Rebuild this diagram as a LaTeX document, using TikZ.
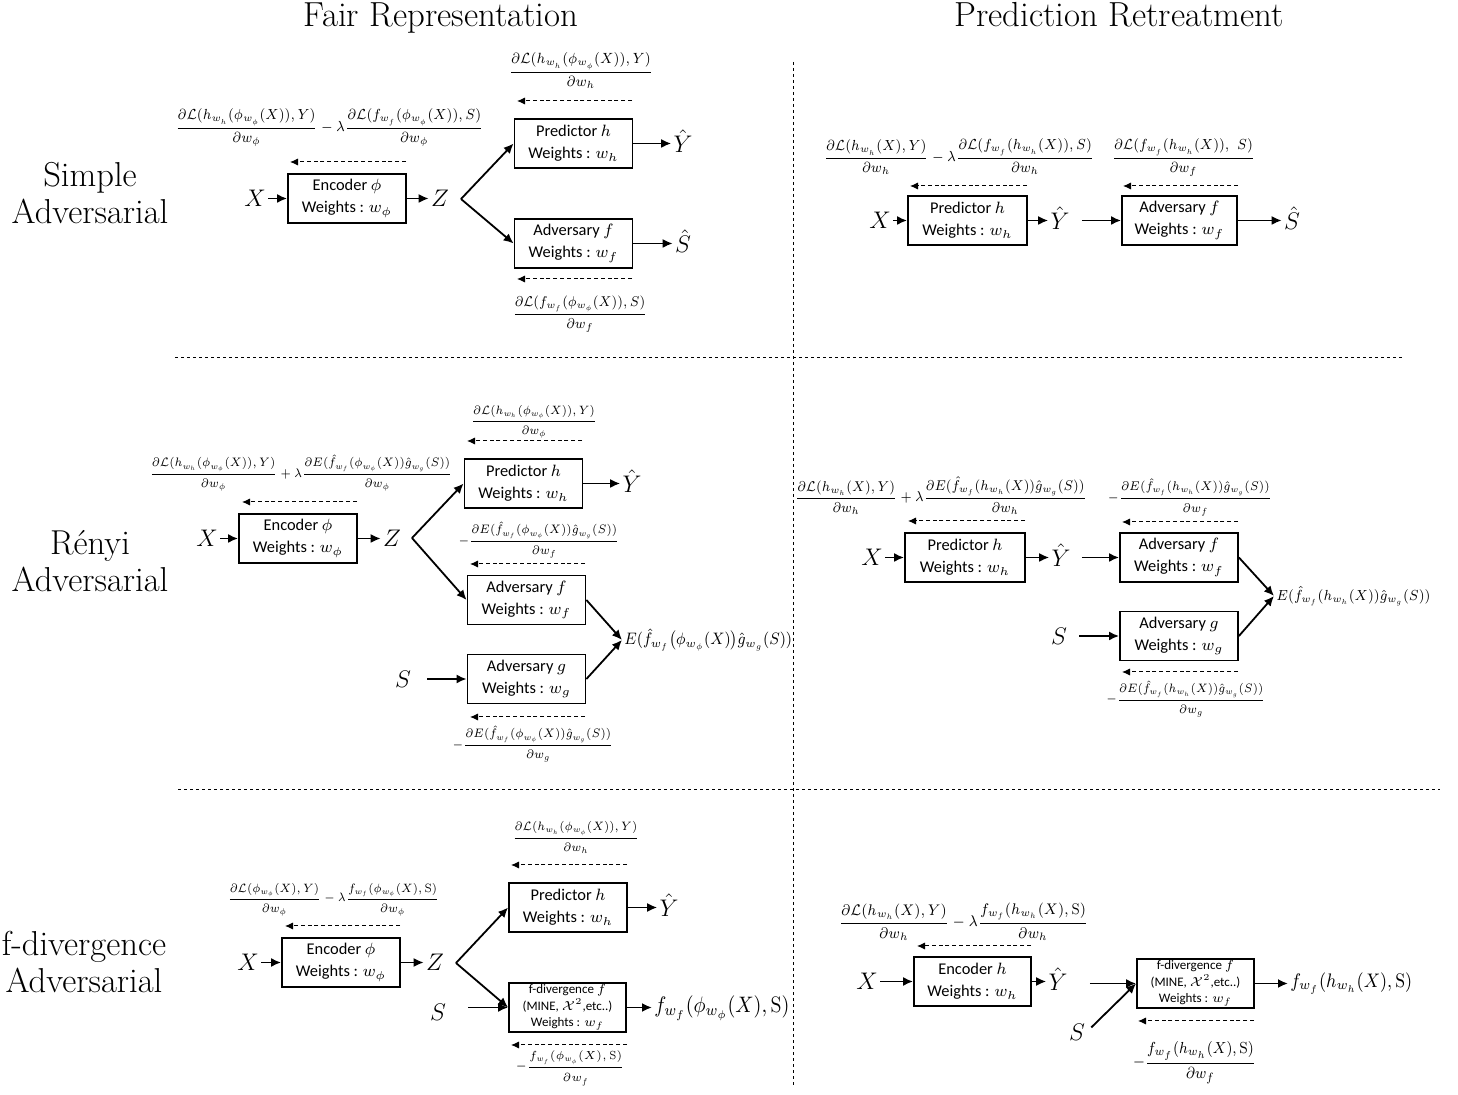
\documentclass[tikz,border=0pt]{standalone}
\usepackage{fix-cm}
\usepackage{amsmath}
\usepackage{graphicx}
\usepackage{fontspec}
\newfontfamily\boxfont{Carlito}
\usetikzlibrary{arrows.meta,calc}
% slightly narrowed formula set
\newcommand\sqz[1]{\scalebox{0.9}[1]{#1}}

\begin{document}
\begin{tikzpicture}[x=0.5pt,y=-0.5pt,
  blk/.style={draw, line width=0.9pt, minimum width=59pt, minimum height=24.5pt,
    inner sep=0pt, align=center, font=\boxfont\fontsize{8.2}{11}\selectfont},
  fblk/.style={blk, font=\boxfont\fontsize{6.5}{8.3}\selectfont},
  var/.style={inner sep=1pt, font=\fontsize{12}{14}\selectfont},
  eq/.style={anchor=base, inner sep=0pt, font=\fontsize{#1}{#1}\selectfont},
  outeq/.style={anchor=west, inner sep=1pt, font=\fontsize{#1}{#1}\selectfont},
  flow/.style={-{Latex[length=5pt,width=4.5pt]}, line width=0.9pt},
  back/.style={-{Latex[length=4pt,width=3.6pt]}, line width=0.5pt, dash pattern=on 2pt off 1.4pt},
  sep/.style={line width=0.5pt, dash pattern=on 1.5pt off 1.5pt},
  head/.style={anchor=base, font=\fontsize{17.4}{20}\selectfont},
  rowname/.style={align=center, font=\fontsize{17.3}{18.5}\selectfont}
]
\fill[white] (0,0) rectangle (1458,1095);
\useasboundingbox (0,0) rectangle (1458,1095);

% column titles and row names
\node[head] (tfair) at (441,27) {Fair Representation};
\node[head] (tpred) at (1119,27) {Prediction Retreatment};
\node[rowname] (rsimple) at (90,193) {Simple\\Adversarial};
\node[rowname] (rrenyi) at (90,561) {Rényi\\Adversarial};
\node[rowname] (rfdiv) at (84,962) {f-divergence\\Adversarial};

% separators
\coordinate (vt) at (793,62);  \coordinate (vb) at (793,1088);
\coordinate (h1a) at (175,358); \coordinate (h1b) at (1403,358);
\coordinate (h2a) at (178,790); \coordinate (h2b) at (1440,790);
\draw[sep] (vt) -- (vb);
\draw[sep] (h1a) -- (h1b);
\draw[sep] (h2a) -- (h2b);

%%% ---------------- Simple adversarial, fair representation
\node[var] (x1) at (255,198.5) {$X$};
\node[blk] (enc1) at (347,198.5) {Encoder $\phi$\\Weights : $w_\phi$};
\node[var] (z1) at (440,198.5) {$Z$};
\coordinate (br1) at (461,199);
\node[blk] (pred1) at (573.5,143.5) {Predictor $h$\\Weights : $w_h$};
\node[blk] (adv1) at (573.5,243.5) {Adversary $f$\\Weights : $w_f$};
\node[var] (yh1) at (683,141.5) {$\hat{Y}$};
\node[var] (sh1) at (683,241.5) {$\hat{S}$};
\draw[flow] (x1.east) -- (x1.east -| enc1.west);
\draw[flow] (enc1.east) -- (enc1.east -| z1.west);
\draw[flow] (br1) -- (pred1.west);
\draw[flow] (br1) -- (adv1.west);
\draw[flow] (pred1.east) -- (pred1.east -| yh1.west);
\draw[flow] (adv1.east) -- (adv1.east -| sh1.west);
\coordinate (d1ar) at (406,162); \coordinate (d1al) at (290,162);
\coordinate (d1br) at (632,101); \coordinate (d1bl) at (517,101);
\coordinate (d1cr) at (632,279); \coordinate (d1cl) at (517,279);
\draw[back] (d1ar) -- (d1al);
\draw[back] (d1br) -- (d1bl);
\draw[back] (d1cr) -- (d1cl);
\node[eq=7.3] (g1enc) at (329.5,131.6)
  {\sqz{$\dfrac{\partial\mathcal{L}(h_{w_h}(\phi_{w_\phi}(X)),Y)}{\partial w_\phi}-\lambda\dfrac{\partial\mathcal{L}(f_{w_f}(\phi_{w_\phi}(X)),S)}{\partial w_\phi}$}};
\node[eq=7.4] (g1pred) at (581,75.7)
  {\sqz{$\dfrac{\partial\mathcal{L}(h_{w_h}(\phi_{w_\phi}(X)),Y)}{\partial w_h}$}};
\node[eq=7.1] (g1adv) at (580,317.5)
  {\sqz{$\dfrac{\partial\mathcal{L}(f_{w_f}(\phi_{w_\phi}(X)),S)}{\partial w_f}$}};

%%% ---------------- Simple adversarial, prediction retreatment
\node[var] (x4) at (880,220.5) {$X$};
\node[blk, minimum width=59.5pt] (pred4) at (967.5,220.5) {Predictor $h$\\Weights : $w_h$};
\node[var] (yh4) at (1060,218.5) {$\hat{Y}$};
\node[blk, minimum width=57.5pt] (adv4) at (1179.5,220.5) {Adversary $f$\\Weights : $w_f$};
\node[var] (sh4) at (1292,218.5) {$\hat{S}$};
\draw[flow] (x4.east) -- (x4.east -| pred4.west);
\draw[flow] (pred4.east) -- (pred4.east -| yh4.west);
\draw[flow] ($(yh4.east |- pred4.east)+(10,0)$) -- (adv4.west);
\draw[flow] (adv4.east) -- (adv4.east -| sh4.west);
\coordinate (d4ar) at (1027,186); \coordinate (d4al) at (910,186);
\coordinate (d4br) at (1238,186); \coordinate (d4bl) at (1123,186);
\draw[back] (d4ar) -- (d4al);
\draw[back] (d4br) -- (d4bl);
\node[eq=7.3] (g4pred) at (959,161.6)
  {\sqz{$\dfrac{\partial\mathcal{L}(h_{w_h}(X),Y)}{\partial w_h}-\lambda\dfrac{\partial\mathcal{L}(f_{w_f}(h_{w_h}(X)),S)}{\partial w_h}$}};
\node[eq=7.3] (g4adv) at (1183.5,161.6)
  {\sqz{$\dfrac{\partial\mathcal{L}(f_{w_f}(h_{w_h}(X)),\ S)}{\partial w_f}$}};

%%% ---------------- Renyi adversarial, fair representation
\node[var] (x2) at (207,538.5) {$X$};
\node[blk] (enc2) at (298,538.5) {Encoder $\phi$\\Weights : $w_\phi$};
\node[var] (z2) at (392,538.5) {$Z$};
\coordinate (br2) at (412,538);
\node[blk] (pred2) at (523.5,483.5) {Predictor $h$\\Weights : $w_h$};
\node[blk] (adv2f) at (526.5,600) {Adversary $f$\\Weights : $w_f$};
\node[blk] (adv2g) at (526.5,679) {Adversary $g$\\Weights : $w_g$};
\node[var] (s2) at (403,679) {$S$};
\node[var] (yh2) at (632,481.5) {$\hat{Y}$};
\node[outeq=8.3] (e2) at (622,640)
  {\sqz{$E(\hat{f}_{w_f}\bigl(\phi_{w_\phi}(X)\bigr)\hat{g}_{w_g}(S))$}};
\draw[flow] (x2.east) -- (x2.east -| enc2.west);
\draw[flow] (enc2.east) -- (enc2.east -| z2.west);
\draw[flow] (br2) -- (pred2.west);
\draw[flow] (br2) -- (adv2f.west);
\draw[flow] (pred2.east) -- (pred2.east -| yh2.west);
\draw[flow] ($(s2.east)+(14,0)$) -- (adv2g.west);
\draw[flow] (adv2f.east) -- (e2.west);
\draw[flow] (adv2g.east) -- (e2.west);
\coordinate (d2ar) at (357,502); \coordinate (d2al) at (242,502);
\coordinate (d2br) at (582,441); \coordinate (d2bl) at (467,441);
\coordinate (d2cr) at (585,564); \coordinate (d2cl) at (470,564);
\coordinate (d2dr) at (585,717); \coordinate (d2dl) at (470,717);
\draw[back] (d2ar) -- (d2al);
\draw[back] (d2br) -- (d2bl);
\draw[back] (d2cr) -- (d2cl);
\draw[back] (d2dr) -- (d2dl);
\node[eq=6.15] (g2enc) at (301,477.1)
  {\sqz{$\dfrac{\partial\mathcal{L}(h_{w_h}(\phi_{w_\phi}(X)),Y)}{\partial w_\phi}+\lambda\dfrac{\partial E(\hat{f}_{w_f}(\phi_{w_\phi}(X))\hat{g}_{w_g}(S))}{\partial w_\phi}$}};
\node[eq=6.05] (g2pred) at (534,424)
  {\sqz{$\dfrac{\partial\mathcal{L}(h_{w_h}(\phi_{w_\phi}(X)),Y)}{\partial w_\phi}$}};
\node[eq=6.15] (g2advf) at (539,544.1)
  {\sqz{$-\dfrac{\partial E(\hat{f}_{w_f}(\phi_{w_\phi}(X))\hat{g}_{w_g}(S))}{\partial w_f}$}};
\node[eq=6.15] (g2advg) at (533,748.1)
  {\sqz{$-\dfrac{\partial E(\hat{f}_{w_f}(\phi_{w_\phi}(X))\hat{g}_{w_g}(S))}{\partial w_g}$}};

%%% ---------------- Renyi adversarial, prediction retreatment
\node[var] (x5) at (872,557.5) {$X$};
\node[blk, minimum width=60pt] (pred5) at (965,557.5) {Predictor $h$\\Weights : $w_h$};
\node[var] (yh5) at (1061,555.5) {$\hat{Y}$};
\node[blk] (adv5f) at (1179,557.5) {Adversary $f$\\Weights : $w_f$};
\node[blk] (adv5g) at (1179,636) {Adversary $g$\\Weights : $w_g$};
\node[var] (s5) at (1059,636) {$S$};
\node[outeq=7.3] (e5) at (1274,596)
  {\sqz{$E(\hat{f}_{w_f}(h_{w_h}(X))\hat{g}_{w_g}(S))$}};
\draw[flow] (x5.east) -- (x5.east -| pred5.west);
\draw[flow] (pred5.east) -- (pred5.east -| yh5.west);
\draw[flow] ($(yh5.east |- pred5.east)+(9,0)$) -- (adv5f.west);
\draw[flow] ($(s5.east)+(10,0)$) -- (adv5g.west);
\draw[flow] (adv5f.east) -- (e5.west);
\draw[flow] (adv5g.east) -- (e5.west);
\coordinate (d5ar) at (1025,521); \coordinate (d5al) at (908,521);
\coordinate (d5br) at (1238,522); \coordinate (d5bl) at (1122,522);
\coordinate (d5cr) at (1238,672); \coordinate (d5cl) at (1122,672);
\draw[back] (d5ar) -- (d5al);
\draw[back] (d5br) -- (d5bl);
\draw[back] (d5cr) -- (d5cl);
\node[eq=7.1] (g5pred) at (941,501.5)
  {\sqz{$\dfrac{\partial\mathcal{L}(h_{w_h}(X),Y)}{\partial w_h}+\lambda\dfrac{\partial E(\hat{f}_{w_f}(h_{w_h}(X))\hat{g}_{w_g}(S))}{\partial w_h}$}};
\node[eq=6.3] (g5advf) at (1190,501.2)
  {\sqz{$-\dfrac{\partial E(\hat{f}_{w_f}(h_{w_h}(X))\hat{g}_{w_g}(S))}{\partial w_f}$}};
\node[eq=6.1] (g5advg) at (1186,703)
  {\sqz{$-\dfrac{\partial E(\hat{f}_{w_f}(h_{w_h}(X))\hat{g}_{w_g}(S))}{\partial w_g}$}};

%%% ---------------- f-divergence adversarial, fair representation
\node[var] (x3) at (248,962.5) {$X$};
\node[blk] (enc3) at (341,962.5) {Encoder $\phi$\\Weights : $w_\phi$};
\node[var] (z3) at (435,962.5) {$Z$};
\coordinate (br3) at (456,963);
\node[blk] (pred3) at (568,907.5) {Predictor $h$\\Weights : $w_h$};
\node[fblk, minimum width=58.5pt] (fdiv3) at (567.5,1007.5) {f-divergence $f$\\(MINE, $\mathcal{X}^2$,etc..)\\Weights : $w_f$};
\node[var] (s3) at (438,1012) {$S$};
\node[var] (yh3) at (669,905.5) {$\hat{Y}$};
\node[outeq=11.2] (o3) at (652,1008) {\sqz{$f_{w_f}(\phi_{w_\phi}(X),\mathrm{S})$}};
\draw[flow] (x3.east) -- (x3.east -| enc3.west);
\draw[flow] (enc3.east) -- (enc3.east -| z3.west);
\draw[flow] (br3) -- (fdiv3.west);
\draw[flow] (br3) -- (pred3.west);
\draw[flow] ($(s3.east |- fdiv3.west)+(20,0)$) -- (fdiv3.west);
\draw[flow] (pred3.east) -- (pred3.east -| yh3.west);
\draw[flow] (fdiv3.east) -- (fdiv3.east -| o3.west);
\coordinate (d3ar) at (400,926); \coordinate (d3al) at (285,926);
\coordinate (d3br) at (627,865); \coordinate (d3bl) at (511,865);
\coordinate (d3cr) at (627,1045); \coordinate (d3cl) at (511,1045);
\draw[back] (d3ar) -- (d3al);
\draw[back] (d3br) -- (d3bl);
\draw[back] (d3cr) -- (d3cl);
\node[eq=6.05] (g3enc) at (333.5,902)
  {\sqz{$\dfrac{\partial\mathcal{L}(\phi_{w_\phi}(X),Y)}{\partial w_\phi}-\lambda\dfrac{f_{w_f}(\phi_{w_\phi}(X),\mathrm{S})}{\partial w_\phi}$}};
\node[eq=6.1] (g3pred) at (576,841)
  {\sqz{$\dfrac{\partial\mathcal{L}(h_{w_h}(\phi_{w_\phi}(X)),Y)}{\partial w_h}$}};
\node[eq=5.85] (g3fdiv) at (570,1069.9)
  {\sqz{$-\dfrac{f_{w_f}(\phi_{w_\phi}(X),\mathrm{S})}{\partial w_f}$}};

%%% ---------------- f-divergence adversarial, prediction retreatment
\node[var] (x6) at (867,981.5) {$X$};
\node[blk, minimum width=58.5pt] (enc6) at (972.5,981.5) {Encoder $h$\\Weights : $w_h$};
\node[var] (yh6) at (1058,979.5) {$\hat{Y}$};
\node[fblk, minimum width=58.5pt] (fdiv6) at (1195.5,983.5) {f-divergence $f$\\(MINE, $\mathcal{X}^2$,etc..)\\Weights : $w_f$};
\node[var] (s6) at (1077,1032) {$S$};
\node[outeq=9.8] (o6) at (1288,983.5) {\sqz{$f_{w_f}(h_{w_h}(X),\mathrm{S})$}};
\draw[flow] (x6.east) -- (x6.east -| enc6.west);
\draw[flow] (enc6.east) -- (enc6.east -| yh6.west);
\draw[flow] ($(yh6.east |- fdiv6.west)+(20,0)$) -- (fdiv6.west);
\draw[flow] ($(s6.north east)+(4,6)$) -- (fdiv6.west);
\draw[flow] (fdiv6.east) -- (fdiv6.east -| o6.west);
\coordinate (d6ar) at (1031,946); \coordinate (d6al) at (917,946);
\coordinate (d6br) at (1254,1021); \coordinate (d6bl) at (1138,1021);
\draw[back] (d6ar) -- (d6al);
\draw[back] (d6br) -- (d6bl);
\node[eq=7.7] (g6enc) at (963.5,926.9)
  {\sqz{$\dfrac{\partial\mathcal{L}(h_{w_h}(X),Y)}{\partial w_h}-\lambda\dfrac{f_{w_f}(h_{w_h}(X),\mathrm{S})}{\partial w_h}$}};
\node[eq=8.0] (g6fdiv) at (1194.5,1067)
  {\sqz{$-\dfrac{f_{w_f}(h_{w_h}(X),\mathrm{S})}{\partial w_f}$}};
\end{tikzpicture}
\end{document}
